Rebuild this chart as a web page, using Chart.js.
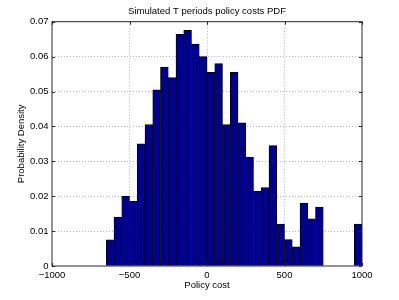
<!DOCTYPE html>
<html>
<head>
<meta charset="utf-8">
<script src="https://cdn.jsdelivr.net/npm/chart.js@4/dist/chart.umd.min.js"></script>
<style>
  html, body { margin: 0; padding: 0; background: #fff; }
  #wrap { width: 399px; height: 300px; }
</style>
</head>
<body>
<div id="wrap"><canvas id="hist" width="399" height="300"></canvas></div>
<script>
const binCenters = [
    -625, -575, -525, -475, -425, -375, -325, -275, -225, -175, -125, -75, -25,
    25, 75, 125, 175, 225, 275, 325, 375, 425, 475, 525, 575, 625, 675, 725,
    775, 825, 875, 925, 975,
];
const density = [
    0.0075, 0.014, 0.020, 0.0185, 0.035, 0.0405, 0.0505, 0.057, 0.054, 0.0664, 0.0675, 0.0636, 0.060,
    0.0555, 0.058, 0.0405, 0.0555, 0.041, 0.0312, 0.0215, 0.0225, 0.0345, 0.012, 0.0076, 0.0055, 0.018, 0.0135, 0.0169,
    0, 0, 0, 0, 0.012,
];
const xTicks = [-1000, -500, 0, 500, 1000];
const yTicks = [0, 0.01, 0.02, 0.03, 0.04, 0.05, 0.06, 0.07];

const FONT = '"Liberation Sans", Arial, Helvetica, sans-serif';
const SIZE = 9.5;

const fmtX = (v) => String(v).replace('-', '\u2212');
const fmtY = (v) => (v === 0 ? '0' : v.toFixed(2));

// matlab style box with inward ticks on all four sides
const boxPlugin = {
    id: 'box',
    afterDraw(chart) {
        const { ctx, chartArea: a, scales } = chart;
        const len = 3;
        ctx.save();
        ctx.strokeStyle = '#262626';
        ctx.lineWidth = 1;
        ctx.strokeRect(a.left, a.top, a.right - a.left, a.bottom - a.top);
        ctx.beginPath();
        xTicks.forEach((t) => {
            const px = Math.round(scales.x.getPixelForValue(t)) + 0.5;
            ctx.moveTo(px, a.bottom); ctx.lineTo(px, a.bottom - len);
            ctx.moveTo(px, a.top); ctx.lineTo(px, a.top + len);
        });
        yTicks.forEach((t) => {
            const py = Math.round(scales.y.getPixelForValue(t)) + 0.5;
            ctx.moveTo(a.left, py); ctx.lineTo(a.left + len, py);
            ctx.moveTo(a.right, py); ctx.lineTo(a.right - len, py);
        });
        ctx.stroke();
        ctx.restore();
    },
};

const edgeless = (vals) => (c) => {
    const v = c.tick ? c.tick.value : null;
    return v === vals[0] || v === vals[vals.length - 1] ? 'rgba(0,0,0,0)' : '#b4b4b4';
};

new Chart(document.getElementById('hist'), {
    type: 'bar',
    data: {
        datasets: [{
            data: binCenters.map((x, i) => ({ x, y: density[i] })),
            backgroundColor: '#00008f',
            borderColor: '#000000',
            borderWidth: 0.8,
            borderSkipped: false,
            barPercentage: 1,
            categoryPercentage: 1,
        }],
    },
    options: {
        responsive: false,
        animation: false,
        layout: { padding: { left: 0, right: 37, top: 0, bottom: 0 } },
        plugins: {
            legend: { display: false },
            tooltip: { enabled: false },
            title: {
                display: true,
                fullSize: false,
                text: 'Simulated T periods policy costs PDF',
                color: '#000',
                font: { family: FONT, size: SIZE, weight: 'normal' },
                padding: { top: 6, bottom: 4.3 },
            },
        },
        scales: {
            x: {
                type: 'linear',
                min: -1000,
                max: 1000,
                offset: false,
                afterBuildTicks: (s) => { s.ticks = xTicks.map((value) => ({ value })); },
                afterFit: (s) => { s.height = 34; },
                grid: { color: edgeless(xTicks), drawTicks: false, lineWidth: 1, offset: false },
                border: { display: false, dash: [1, 2] },
                ticks: {
                    padding: 4,
                    color: '#000',
                    font: { family: FONT, size: SIZE },
                    maxRotation: 0,
                    callback: (v) => fmtX(v),
                },
                title: {
                    display: true,
                    text: 'Policy cost',
                    color: '#000',
                    font: { family: FONT, size: SIZE },
                    padding: { top: 0, bottom: 9.3 },
                },
            },
            y: {
                min: 0,
                max: 0.07,
                afterBuildTicks: (s) => { s.ticks = yTicks.map((value) => ({ value })); },
                afterFit: (s) => { s.width = 52; },
                grid: { color: edgeless(yTicks), drawTicks: false, lineWidth: 1 },
                border: { display: false, dash: [1, 2] },
                ticks: {
                    padding: 3.5,
                    color: '#000',
                    font: { family: FONT, size: SIZE },
                    callback: (v) => fmtY(v),
                },
                title: {
                    display: true,
                    text: 'Probability Density',
                    color: '#000',
                    font: { family: FONT, size: SIZE },
                    padding: { top: 16, bottom: 0 },
                },
            },
        },
    },
    plugins: [boxPlugin],
});
</script>
</body>
</html>
